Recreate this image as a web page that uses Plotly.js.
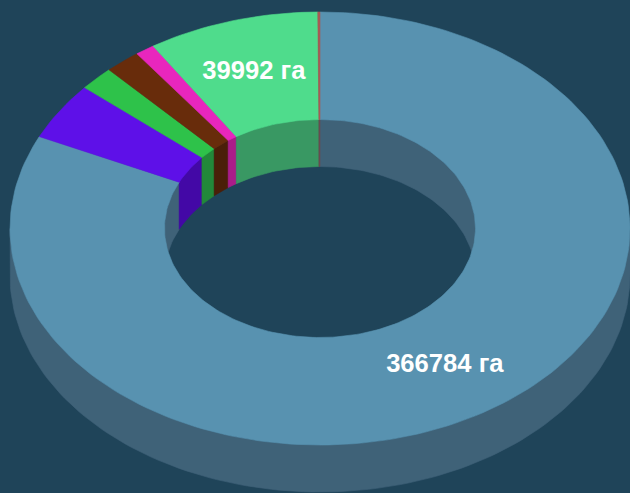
<!DOCTYPE html>
<html>
<head>
<meta charset="utf-8">
<script src="https://cdn.plot.ly/plotly-3.0.1.min.js"></script>
<style>html,body{margin:0;padding:0;background:#1f4459;overflow:hidden}#chart{width:630px;height:493px}</style>
</head>
<body>
<div id="chart"></div>
<script>
// Data, clockwise from 12 o'clock
const categories = ["a", "b", "c", "d", "e", "f", "g"];
const values = [366784, 19250, 8100, 8300, 4500, 39992, 500];
const labels = ["366784 га", "", "", "", "", "39992 га", ""];
const topColors = ["#5892b0", "#5e10e8", "#2ec24a", "#682c0b", "#e826bd", "#4fdc8c", "#a85a55"];
const wallColors = ["#3f6278", "#4308a6", "#22883a", "#4a1f08", "#aa1c89", "#399863", "#6a4a50"];

// Projection of the ring
const bg = "#1f4459";
const cx = 320, cy = 228.5, rxOuter = 310, ryOuter = 216.5, rxInner = 155.5, ryInner = 109, depth = 47;
const total = values.reduce((a, b) => a + b, 0);

function arc(a1, a2, rx, ry, dy) {
  const n = Math.max(2, Math.ceil(Math.abs(a2 - a1) / 1.5));
  const xs = [], ys = [];
  for (let i = 0; i <= n; i++) {
    const t = (a1 + (a2 - a1) * i / n) * Math.PI / 180;
    xs.push(cx + rx * Math.sin(t));
    ys.push(cy + dy - ry * Math.cos(t));
  }
  return [xs, ys];
}
function poly(p1, p2, color) {
  const x = p1[0].concat(p2[0]), y = p1[1].concat(p2[1]);
  x.push(x[0]); y.push(y[0]);
  return {type: "scatter", mode: "lines", x, y, fill: "toself", fillcolor: color,
          line: {color, width: 0.6}, hoverinfo: "skip", showlegend: false};
}

const traces = [];
// angular spans from the values
const spans = [];
let acc = 0;
values.forEach(v => { spans.push([acc, acc + v / total * 360]); acc += v / total * 360; });

// outer side wall (front half)
traces.push(poly(arc(90, 270, rxOuter, ryOuter, 0), arc(270, 90, rxOuter, ryOuter, depth), wallColors[0]));

// inner walls (back half)
spans.forEach((s, i) => {
  [[0, 90], [270, 360]].forEach(w => {
    const a = Math.max(s[0], w[0]), b = Math.min(s[1], w[1]);
    if (b > a) traces.push(poly(arc(a, b, rxInner, ryInner, 0), arc(b, a, rxInner, ryInner, depth), wallColors[i]));
  });
});

// top face
spans.forEach((s, i) => {
  traces.push(poly(arc(s[0], s[1], rxOuter, ryOuter, 0), arc(s[1], s[0], rxInner, ryInner, 0), topColors[i]));
});

// labels at the middle of each slice
const lx = [], ly = [], lt = [];
spans.forEach((s, i) => {
  if (!labels[i]) return;
  const t = (s[0] + s[1]) / 2 * Math.PI / 180;
  lx.push(cx + (rxOuter + rxInner) / 2 * Math.sin(t));
  ly.push(cy - (ryOuter + ryInner) / 2 * Math.cos(t));
  lt.push(labels[i]);
});
traces.push({type: "scatter", mode: "text", x: lx, y: ly, text: lt, textposition: "middle center",
  textfont: {family: "Liberation Sans, Arial, sans-serif", size: 25.6, color: "#ffffff", weight: 700},
  hoverinfo: "skip", showlegend: false, cliponaxis: false});

Plotly.newPlot("chart", traces, {
  width: 630, height: 493,
  margin: {l: 0, r: 0, t: 0, b: 0},
  paper_bgcolor: bg, plot_bgcolor: bg,
  xaxis: {range: [0, 630], visible: false, fixedrange: true},
  yaxis: {range: [493, 0], visible: false, fixedrange: true},
  showlegend: false
}, {displayModeBar: false, staticPlot: true});
</script>
</body>
</html>
